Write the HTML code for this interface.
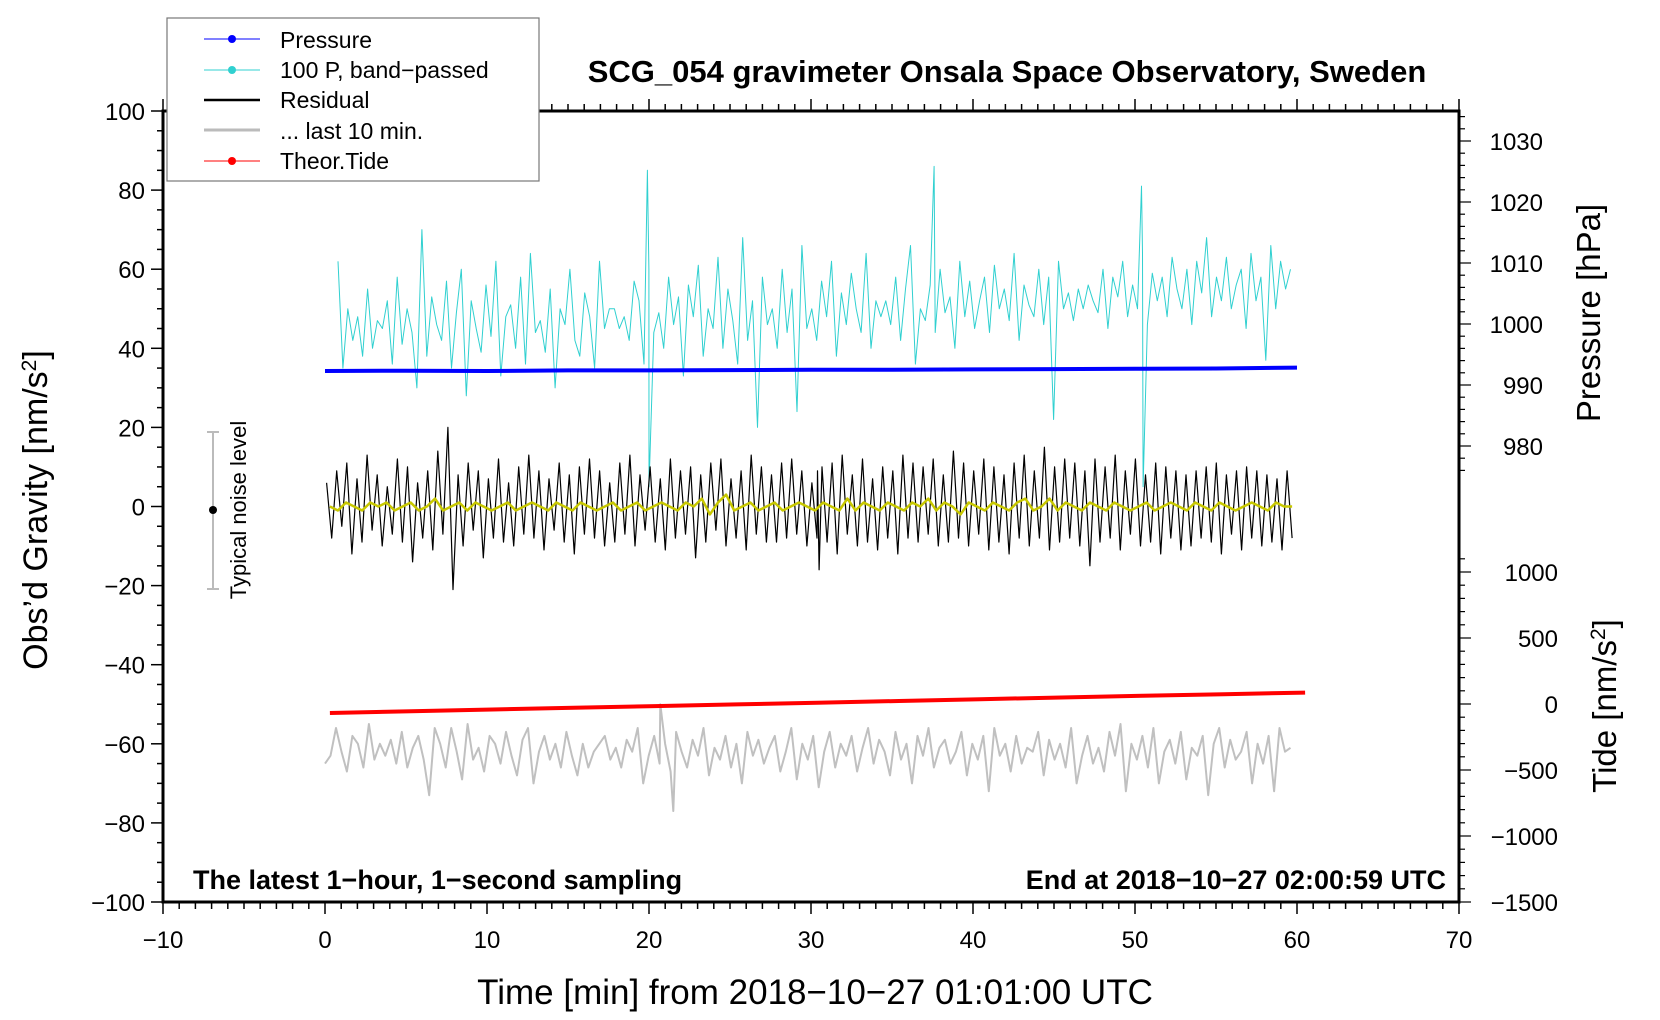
<!DOCTYPE html>
<html><head><meta charset="utf-8"><style>
body{margin:0;background:#fff}
svg{display:block;font-family:"Liberation Sans",sans-serif}
</style></head><body>
<svg id="c" width="1660" height="1020" viewBox="0 0 1660 1020"></svg>
<script>
const xTickLabels=[-10,0,10,20,30,40,50,60,70];
const yTickLabels=[100,80,60,40,20,0,-20,-40,-60,-80,-100];
const pTickLabels=[1030,1020,1010,1000,990,980];
const tTickLabels=[1000,500,0,-500,-1000,-1500];
const pressure=[992.3,992.35,992.3,992.4,992.4,992.45,992.5,992.5,992.55,992.6,992.65,992.7,992.85];
const tide=[-68,-55,-42,-29,-16,-3,10,23,36,49,62,74,86];
const resid=[6,-8,9,-5,11,-12,7,-9,13,-6,8,-10,5,-7,12,-9,10,-14,6,-8,9,-11,14,-7,20,-21,8,-10,11,-6,9,-13,7,-8,12,-9,6,-10,10,-7,13,-8,9,-11,7,-6,11,-9,8,-12,10,-7,12,-8,9,-10,6,-9,11,-7,13,-10,8,-6,10,-9,7,-11,12,-8,9,-7,10,-13,8,-9,11,-6,12,-10,7,-8,9,-11,13,-7,10,-9,8,-9,11,-8,12,-7,9,-10,6,-8,10,-9,11,-12,13,-7,8,-10,12,-9,7,-11,10,-8,9,-12,13,-8,11,-9,10,-7,12,-10,8,-9,14,-8,11,-10,9,-7,12,-11,10,-9,8,-12,11,-8,13,-10,9,-8,15,-11,10,-9,12,-8,11,-10,9,-15,12,-9,10,-8,13,-11,9,-7,12,-10,8,-9,11,-12,10,-8,9,-11,8,-10,9,-8,10,-9,11,-12,8,-7,9,-11,10,-8,9,-10,8,-9,7,-11,9,-8];
const residSpikeTimes=[30.4,30.5];
const residSpikeValues=[9,-16];
const cyan=[62,35,50,42,48,38,55,40,47,45,52,36,58,41,50,44,30,70,38,53,46,42,57,35,49,60,28,52,45,39,56,43,62,33,48,51,40,58,36,64,44,47,39,55,30,50,46,60,42,38,54,48,35,62,45,50,50,45,48,42,57,52,36,60,44,49,40,58,46,53,33,56,48,61,38,50,45,63,40,55,47,36,68,42,52,20,58,46,50,40,60,44,55,24,66,45,50,42,57,48,62,38,54,46,59,50,44,64,40,52,48,52,46,58,42,55,66,36,50,47,56,44,60,49,53,40,62,48,57,45,52,58,44,61,50,55,47,64,42,56,51,48,60,46,58,22,62,50,54,47,55,50,56,52,49,60,45,58,53,62,48,56,50,64,46,59,52,58,48,63,55,50,60,46,62,54,68,48,58,52,63,50,56,60,45,64,52,58,37,66,50,62,55,60];
const cyanSpikeTimes=[19.9,20.0,37.6,50.4,50.5];
const cyanSpikeValues=[85,5,86,81,5];
const gray=[-65,-63,-56,-62,-67,-58,-60,-66,-55,-64,-60,-63,-59,-65,-57,-66,-61,-58,-64,-73,-56,-60,-66,-56,-62,-69,-55,-64,-61,-67,-58,-60,-65,-57,-63,-68,-59,-56,-70,-62,-58,-64,-60,-66,-57,-63,-68,-60,-66,-62,-60,-58,-64,-61,-66,-59,-62,-56,-70,-63,-58,-65,-60,-67,-57,-62,-66,-59,-63,-56,-68,-61,-64,-58,-66,-60,-70,-57,-63,-59,-65,-61,-58,-67,-62,-56,-69,-60,-64,-58,-71,-62,-57,-66,-60,-63,-58,-67,-61,-56,-65,-59,-62,-68,-57,-64,-60,-70,-58,-63,-56,-66,-61,-59,-65,-62,-57,-68,-60,-64,-58,-72,-56,-63,-60,-67,-58,-65,-61,-62,-57,-68,-59,-64,-60,-66,-56,-70,-63,-58,-65,-61,-67,-57,-63,-55,-72,-60,-64,-58,-66,-56,-70,-62,-59,-65,-57,-69,-61,-63,-58,-73,-60,-56,-66,-59,-64,-62,-57,-70,-60,-65,-58,-72,-56,-62,-61];
const graySpikeTimes=[20.7,21.5];
const graySpikeValues=[-50,-77];
const yellow=[0,-1,1,0,-1,1,0,1,-1,0,1,-1,0,2,-1,0,1,-1,1,0,-1,0,1,-1,0,1,0,-1,1,0,-1,1,0,-1,0,1,-1,0,1,-1,0,1,0,-1,1,0,2,-2,1,3,-1,0,1,-1,0,1,-1,0,1,0,-1,1,0,-1,2,-1,1,0,-1,1,0,-1,1,0,2,-1,1,0,-2,1,0,-1,1,0,-1,1,2,-1,0,2,-1,1,0,-1,1,0,-1,1,0,-1,0,1,-1,0,1,0,-1,1,0,-1,1,0,-1,0,1,0,-1,1,0,0];

const svg=document.getElementById('c');
const NS='http://www.w3.org/2000/svg';
const L=163,R=1459,T=111,B=902;
const X=t=>L+(t+10)*(R-L)/80;
const Y=v=>B-(v+100)*(B-T)/200;
const YP=p=>141+(1030-p)*6.1;
const YT=v=>704-v*0.132;
function mk(tag,attrs,parent){const e=document.createElementNS(NS,tag);for(const k in attrs)e.setAttribute(k,attrs[k]);(parent||svg).appendChild(e);return e;}
function txt(s,x,y,size,anchor){const e=mk('text',{x:x,y:y,'font-size':size,'text-anchor':anchor||'middle'});e.textContent=s;return e;}
function series(arr,t0,t1,yf,color,w,name,spT,spV){
  let pts=arr.map((v,i)=>[t0+i*(t1-t0)/(arr.length-1),v]);
  if(spT){spT.forEach((t,k)=>pts.push([t,spV[k]]));pts.sort((a,b)=>a[0]-b[0]);}
  let d='';pts.forEach((p,i)=>{d+=(i?'L':'M')+X(p[0]).toFixed(1)+' '+yf(p[1]).toFixed(1);});
  const p=mk('path',{d:d,fill:'none',stroke:color,'stroke-width':w,'stroke-linejoin':'round'});
  
  
  return p;
}
series(cyan,0.8,59.6,Y,'#30d0d0',1,'bandpassed-pressure-line',cyanSpikeTimes,cyanSpikeValues);
series(gray,0,59.6,Y,'#c0c0c0',2,'last-10-min-line',graySpikeTimes,graySpikeValues);
series(resid,0.1,59.7,Y,'#000',1.2,'residual-line',residSpikeTimes,residSpikeValues);
series(yellow,0.3,59.7,Y,'#c8c800',2.5,'residual-smoothed-line');
series(pressure,0,60,YP,'#0000ff',4,'pressure-line');
series(tide,0.3,60.5,YT,'#ff0000',4,'theor-tide-line');
const fr=mk('rect',{x:L,y:T,width:R-L,height:B-T,fill:'none',stroke:'#000','stroke-width':3});


for(let t=-10;t<=70;t++){const maj=t%10===0;mk('line',{x1:X(t),x2:X(t),y1:B,y2:B+(maj?12:7),stroke:'#000','stroke-width':1.5});mk('line',{x1:X(t),x2:X(t),y1:T,y2:T-(maj?12:7),stroke:'#000','stroke-width':1.5});}
xTickLabels.forEach(t=>{const e=txt(String(t).replace('-','\u2212'),X(t),948,24);});
for(let v=-100;v<=100;v+=5){const maj=v%20===0;mk('line',{x1:L,x2:L-(maj?12:6),y1:Y(v),y2:Y(v),stroke:'#000','stroke-width':1.5});}
yTickLabels.forEach(v=>{const e=txt(String(v).replace('-','\u2212'),L-18,Y(v)+9,24,'end');});
for(let p=976;p<=1034;p+=2){mk('line',{x1:R,x2:R+(p%10===0?12:6),y1:YP(p),y2:YP(p),stroke:'#000','stroke-width':1.2});}
pTickLabels.forEach(p=>{const e=txt(String(p),1543,YP(p)+9,24,'end');});
for(let v=-1500;v<=1100;v+=100){mk('line',{x1:R,x2:R+(v%500===0?12:6),y1:YT(v),y2:YT(v),stroke:'#000','stroke-width':1.2});}
tTickLabels.forEach(v=>{const e=txt(String(v).replace('-','\u2212'),1558,YT(v)+9,24,'end');});
</script>
<svg width="1660" height="1020" style="position:absolute;left:0;top:0" font-family="Liberation Sans, sans-serif">
 <text x="1007" y="82" font-size="31" font-weight="bold" text-anchor="middle">SCG_054 gravimeter Onsala Space Observatory, Sweden</text>
 <text transform="translate(47,510) rotate(-90)" font-size="34" text-anchor="middle">Obs’d Gravity [nm/s<tspan baseline-shift="super" font-size="21">2</tspan>]</text>
 <text x="815" y="1004" font-size="35" text-anchor="middle">Time [min] from 2018−10−27 01:01:00 UTC</text>
 <text transform="translate(1600,313) rotate(-90)" font-size="33" text-anchor="middle">Pressure [hPa]</text>
 <text transform="translate(1616,706) rotate(-90)" font-size="33" text-anchor="middle">Tide [nm/s<tspan baseline-shift="super" font-size="21">2</tspan>]</text>
 <text x="193" y="889" font-size="27" font-weight="bold">The latest 1−hour, 1−second sampling</text>
 <text x="1446" y="889" font-size="27" font-weight="bold" text-anchor="end">End at 2018−10−27 02:00:59 UTC</text>
 <g>
  <line x1="213" x2="213" y1="432" y2="589" stroke="#bbb" stroke-width="2"/>
  <line x1="207" x2="219" y1="432" y2="432" stroke="#bbb" stroke-width="2"/>
  <line x1="207" x2="219" y1="589" y2="589" stroke="#bbb" stroke-width="2"/>
  <circle cx="213" cy="510" r="4" fill="#000"/>
  <text transform="translate(246,510) rotate(-90)" font-size="22" text-anchor="middle">Typical noise level</text>
 </g>
 <g>
  <rect x="167" y="18" width="372" height="163" fill="#fff" stroke="#777" stroke-width="1.2"/>
  <g><line x1="204" x2="260" y1="39" y2="39" stroke="#0000ff"/><circle cx="232" cy="39" r="4" fill="#0000ff"/><text x="280" y="48" font-size="23">Pressure</text></g>
  <g><line x1="204" x2="260" y1="70" y2="70" stroke="#30d0d0"/><circle cx="232" cy="70" r="4" fill="#30d0d0"/><text x="280" y="78" font-size="23">100 P, band−passed</text></g>
  <g><line x1="204" x2="260" y1="100" y2="100" stroke="#000" stroke-width="2.5"/><text x="280" y="108" font-size="23">Residual</text></g>
  <g><line x1="204" x2="260" y1="130" y2="130" stroke="#bbb" stroke-width="3"/><text x="280" y="139" font-size="23">... last 10 min.</text></g>
  <g><line x1="204" x2="260" y1="161" y2="161" stroke="#ff0000"/><circle cx="232" cy="161" r="4" fill="#ff0000"/><text x="280" y="169" font-size="23">Theor.Tide</text></g>
 </g>
</svg>
</body></html>
